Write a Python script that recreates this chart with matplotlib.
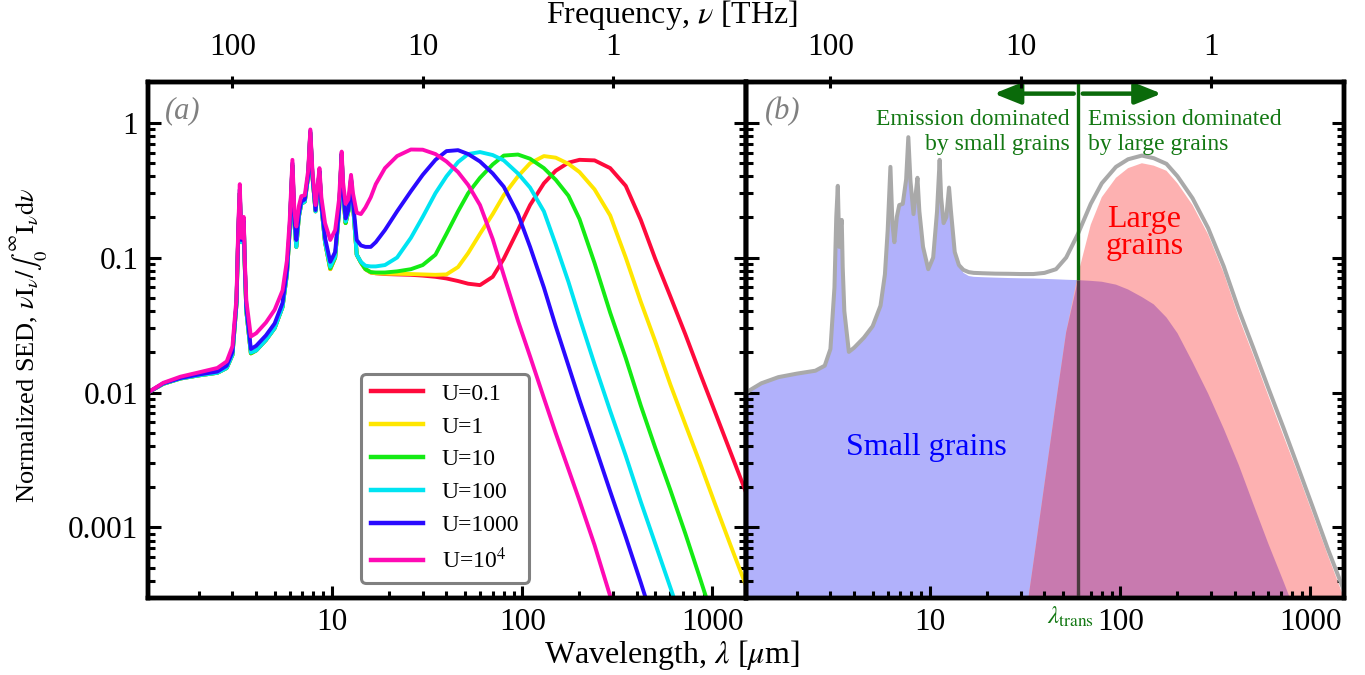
import numpy as np
import matplotlib
matplotlib.use('Agg')
import matplotlib.pyplot as plt
from matplotlib.ticker import NullFormatter, NullLocator

plt.rcParams['font.family'] = ['Liberation Serif', 'DejaVu Serif']
plt.rcParams['mathtext.fontset'] = 'stix'

# wavelength grid [micron]
wl = [1.08, 1.3, 1.6, 2.0, 2.5, 2.8, 3.0, 3.15, 3.22, 3.28,
      3.34, 3.40, 3.44, 3.48, 3.55, 3.75, 4.0, 4.5, 5.0, 5.5,
      5.8, 6.0, 6.2, 6.35, 6.5, 6.7, 6.9, 7.2, 7.5, 7.7,
      7.9, 8.2, 8.45, 8.6, 8.8, 9.2, 9.8, 10.4, 10.9, 11.25,
      11.45, 11.8, 12.2, 12.6, 12.9, 13.5, 14.2, 15, 16, 17,
      19, 22, 26, 30, 35, 40, 46, 52, 60, 70,
      80, 95, 110, 130, 150, 175, 200, 240, 290, 350,
      420, 500, 600, 720, 860, 1030, 1230, 1500]

# panel (a): normalized SEDs for different radiation fields U
sed_U01 = [0.0100, 0.0116, 0.0127, 0.0134, 0.0140, 0.0152, 0.019, 0.045, 0.15, 0.30,
           0.13, 0.17, 0.19, 0.09, 0.04, 0.0195, 0.0205, 0.0245, 0.030, 0.043,
           0.075, 0.16, 0.48, 0.18, 0.12, 0.20, 0.25, 0.26, 0.40, 0.84,
           0.40, 0.22, 0.33, 0.43, 0.24, 0.13, 0.082, 0.10, 0.22, 0.58,
           0.30, 0.18, 0.22, 0.38, 0.25, 0.105, 0.092, 0.082, 0.0775, 0.0765,
           0.0755, 0.075, 0.0745, 0.0735, 0.072, 0.070, 0.067, 0.064, 0.0625, 0.072,
           0.098, 0.16, 0.245, 0.355, 0.44, 0.505, 0.53, 0.525, 0.46, 0.34,
           0.19, 0.098, 0.0517, 0.027, 0.0139, 0.0072, 0.00376, 0.00182]
sed_U1 = [0.0100, 0.0116, 0.0127, 0.0134, 0.0140, 0.0152, 0.019, 0.045, 0.15, 0.30,
          0.13, 0.17, 0.19, 0.09, 0.04, 0.0195, 0.0205, 0.0245, 0.030, 0.043,
          0.075, 0.16, 0.48, 0.18, 0.12, 0.20, 0.25, 0.26, 0.40, 0.84,
          0.40, 0.22, 0.33, 0.43, 0.24, 0.13, 0.082, 0.10, 0.22, 0.58,
          0.30, 0.18, 0.22, 0.38, 0.25, 0.105, 0.092, 0.082, 0.0775, 0.0765,
          0.076, 0.0758, 0.0755, 0.075, 0.0745, 0.075, 0.085, 0.108, 0.15, 0.21,
          0.29, 0.40, 0.50, 0.565, 0.55, 0.495, 0.43, 0.32, 0.205, 0.10,
          0.047, 0.024, 0.0115, 0.0058, 0.003, 0.0015, 0.00077, 0.00037]
sed_U10 = [0.0100, 0.0116, 0.0127, 0.0134, 0.0140, 0.0152, 0.019, 0.045, 0.15, 0.30,
           0.13, 0.17, 0.19, 0.09, 0.04, 0.0195, 0.0205, 0.0245, 0.030, 0.043,
           0.075, 0.16, 0.48, 0.18, 0.12, 0.20, 0.25, 0.26, 0.40, 0.84,
           0.40, 0.22, 0.33, 0.43, 0.24, 0.13, 0.083, 0.10, 0.22, 0.58,
           0.30, 0.18, 0.22, 0.38, 0.25, 0.105, 0.092, 0.082, 0.078, 0.0775,
           0.0775, 0.079, 0.082, 0.088, 0.105, 0.15, 0.22, 0.30, 0.39, 0.49,
           0.57, 0.58, 0.54, 0.46, 0.377, 0.287, 0.193, 0.091, 0.039, 0.018,
           0.008, 0.0039, 0.0019, 0.0009, 0.00042, 0.00019, 9e-5, 4e-5]
sed_U100 = [0.0100, 0.0116, 0.0127, 0.0134, 0.0140, 0.0152, 0.019, 0.045, 0.15, 0.30,
            0.13, 0.17, 0.19, 0.09, 0.04, 0.0198, 0.0205, 0.0245, 0.030, 0.043,
            0.075, 0.16, 0.48, 0.18, 0.12, 0.20, 0.25, 0.26, 0.40, 0.84,
            0.40, 0.22, 0.33, 0.43, 0.24, 0.13, 0.0855, 0.102, 0.22, 0.58,
            0.30, 0.185, 0.22, 0.38, 0.25, 0.105, 0.093, 0.087, 0.086, 0.086,
            0.088, 0.10, 0.14, 0.20, 0.30, 0.40, 0.51, 0.585, 0.605, 0.575,
            0.525, 0.42, 0.33, 0.22, 0.125, 0.066, 0.036, 0.0162, 0.0073, 0.0034,
            0.00155, 0.00076, 0.00036, 0.00017, 7.5e-5, 3.3e-5, 1.5e-5, 6.5e-6]
sed_U1000 = [0.0100, 0.0117, 0.0128, 0.0136, 0.0143, 0.0158, 0.020, 0.047, 0.16, 0.32,
             0.135, 0.175, 0.195, 0.095, 0.043, 0.021, 0.0222, 0.0265, 0.0325, 0.046,
             0.08, 0.17, 0.50, 0.19, 0.135, 0.21, 0.26, 0.27, 0.41, 0.87,
             0.41, 0.225, 0.34, 0.44, 0.25, 0.14, 0.093, 0.11, 0.23, 0.59,
             0.31, 0.195, 0.225, 0.39, 0.26, 0.135, 0.123, 0.12, 0.12, 0.13,
             0.16, 0.22, 0.31, 0.41, 0.53, 0.615, 0.625, 0.585, 0.515, 0.42,
             0.335, 0.21, 0.12, 0.06, 0.031, 0.0158, 0.0088, 0.0041, 0.00185, 0.00085,
             0.00039, 0.00018, 8.5e-5, 4e-5, 1.9e-5, 9e-6, 4.2e-6, 1.9e-6]
sed_U1e4 = [0.0100, 0.0118, 0.0131, 0.0141, 0.0152, 0.0170, 0.022, 0.05, 0.17, 0.35,
            0.14, 0.18, 0.20, 0.10, 0.048, 0.026, 0.0275, 0.033, 0.041, 0.057,
            0.095, 0.19, 0.53, 0.22, 0.17, 0.24, 0.285, 0.29, 0.44, 0.89,
            0.44, 0.245, 0.36, 0.46, 0.28, 0.18, 0.135, 0.16, 0.27, 0.61,
            0.36, 0.25, 0.27, 0.41, 0.30, 0.215, 0.21, 0.235, 0.28, 0.35,
            0.46, 0.565, 0.632, 0.63, 0.585, 0.515, 0.43, 0.345, 0.245, 0.137,
            0.074, 0.034, 0.0185, 0.0091, 0.005, 0.0027, 0.00158, 0.00074, 0.00031, 0.00015,
            7e-5, 3.3e-5, 1.5e-5, 7e-6, 3.3e-6, 1.5e-6, 7e-7, 3e-7]

labels = ['U=0.1', 'U=1', 'U=10', 'U=100', 'U=1000', r'U=10$^4$']
colors = ['#ff0a3c', '#ffe600', '#14eb14', '#00e4f2', '#2a0aff', '#ff0ab4']

# panel (b): total SED and the two grain populations
sed_total = [0.0100, 0.0117, 0.0130, 0.0138, 0.0145, 0.0158, 0.021, 0.06, 0.20, 0.34,
             0.12, 0.17, 0.19, 0.085, 0.04, 0.020, 0.0215, 0.0255, 0.031, 0.044,
             0.075, 0.16, 0.47, 0.18, 0.13, 0.20, 0.245, 0.25, 0.38, 0.78,
             0.37, 0.21, 0.31, 0.39, 0.22, 0.12, 0.082, 0.10, 0.22, 0.53,
             0.28, 0.18, 0.20, 0.33, 0.22, 0.11, 0.088, 0.081, 0.078, 0.077,
             0.0765, 0.076, 0.0758, 0.0755, 0.0755, 0.077, 0.082, 0.10, 0.15, 0.25,
             0.355, 0.47, 0.535, 0.57, 0.545, 0.495, 0.40, 0.275, 0.165, 0.086,
             0.041, 0.0215, 0.0108, 0.0055, 0.0028, 0.0014, 0.0007, 0.00034]
sed_small = [0.0100, 0.0117, 0.0130, 0.0138, 0.0145, 0.0158, 0.021, 0.06, 0.20, 0.34,
             0.12, 0.17, 0.19, 0.085, 0.04, 0.020, 0.0215, 0.0255, 0.031, 0.044,
             0.075, 0.16, 0.47, 0.18, 0.13, 0.20, 0.245, 0.25, 0.38, 0.78,
             0.37, 0.21, 0.31, 0.39, 0.22, 0.12, 0.082, 0.10, 0.22, 0.53,
             0.28, 0.18, 0.20, 0.33, 0.22, 0.11, 0.088, 0.077, 0.073, 0.072,
             0.0715, 0.071, 0.0705, 0.0702, 0.070, 0.0695, 0.069, 0.0685, 0.068, 0.0672,
             0.0662, 0.063, 0.058, 0.051, 0.045, 0.036, 0.0275, 0.0168, 0.0098, 0.0054,
             0.0029, 0.0015, 0.00076, 0.0004, 0.00021, 0.0001, 5e-5, 2.2e-5]
# large grains only from 30 micron on (same grid as the tail of wl)
wl_large = [30, 35, 40, 46, 52, 60, 70, 80, 95, 110, 130, 150, 175, 200,
            240, 290, 350, 420, 500, 600, 720, 860, 1030, 1230, 1500]
sed_large = [1.2e-4, 5.5e-4, 0.0021, 0.0085, 0.028, 0.075, 0.175, 0.28, 0.39, 0.46,
             0.50, 0.48, 0.44, 0.355, 0.245, 0.148, 0.077, 0.036, 0.019, 0.0095,
             0.0048, 0.0025, 0.00125, 0.00063, 0.0003]
lambda_trans = 60.

c_thz = 299.792458  # micron * THz
green = '#137813'
dkgreen = '#0a6a0a'

fig = plt.figure(figsize=(13.65, 6.75), dpi=100)
ax1 = fig.add_axes([148/1365, 77/675, 598/1365, 516/675])
ax2 = fig.add_axes([746/1365, 77/675, 598/1365, 516/675])


def style(ax, ylab=True):
    top = ax.twiny()
    for a in (ax, top):
        a.set_xscale('log')
        a.set_xlim(1.08, 1500)
    ax.set_yscale('log')
    ax.set_ylim(3e-4, 2)
    ax.set_xticks([10, 100, 1000])
    ax.set_xticklabels(['10', '100', '1000'])
    ax.set_yticks([1e-3, 1e-2, 0.1, 1])
    ax.set_yticklabels(['0.001', '0.01', '0.1', '1'] if ylab else [])
    ax.xaxis.set_minor_formatter(NullFormatter())
    ax.yaxis.set_minor_formatter(NullFormatter())
    ax.tick_params(which='both', direction='in', bottom=True, top=False,
                   left=True, right=True, width=2.2, labelsize=22.5, pad=7)
    ax.tick_params(which='major', length=9)
    ax.tick_params(which='minor', length=4.8)
    top.set_xticks([c_thz/100, c_thz/10, c_thz])
    top.set_xticklabels(['100', '10', '1'])
    top.xaxis.set_minor_locator(NullLocator())
    top.tick_params(axis='x', direction='inout', length=9, width=2.2,
                    labelsize=22.5, pad=10)
    for a in (ax, top):
        for s in a.spines.values():
            s.set_linewidth(3.2)
    return top


style(ax1)
style(ax2, ylab=False)

# panel (a)
sets = [sed_U01, sed_U1, sed_U10, sed_U100, sed_U1000, sed_U1e4]
for i in range(len(sets)):
    ax1.plot(wl, sets[i], color=colors[i], lw=2.8, label=labels[i])

leg = ax1.legend(loc='lower left', bbox_to_anchor=(0.337, 0.007), fontsize=17,
                 fancybox=True, framealpha=1, edgecolor='#808080',
                 handlelength=2.2, handletextpad=0.8, labelspacing=0.48,
                 borderpad=0.4)
leg.get_frame().set_linewidth(2.2)
for l in leg.get_lines():
    l.set_linewidth(3.2)

ax1.text(0.028, 0.972, '(a)', transform=ax1.transAxes, style='italic',
         color='#808080', fontsize=22, va='top')

# panel (b)
wl_a = np.array(wl)
small = np.array(sed_small)
large = np.array(sed_large)
n0 = len(wl) - len(wl_large)
ax2.fill_between(wl_a, 1e-8, small, color='#b1b1fb', lw=0, zorder=1)
ax2.fill_between(wl_large, 1e-8, large, color='#fdb1b1', lw=0, zorder=1)
ax2.fill_between(wl_large, 1e-8, np.minimum(small[n0:], large),
                 color='#c87aaf', lw=0, zorder=1.5)
ax2.plot(wl, sed_total, color='#a9a9a9', lw=2.9, zorder=3)

i_t = wl_large.index(lambda_trans)
y_split = min(small[n0 + i_t], large[i_t])
ylo, yhi = ax2.get_ylim()
ax2.vlines(lambda_trans, ylo, y_split, color='#4a3a3e', lw=2.4, zorder=4)
ax2.vlines(lambda_trans, y_split, yhi, color=dkgreen, lw=2.4, zorder=4)

arrow_style = dict(arrowstyle='-|>,head_length=0.8,head_width=0.32',
                   color=dkgreen, lw=3.2, shrinkA=0, shrinkB=0, mutation_scale=20)
ax2.annotate('', xy=(21.7, 1.64), xytext=(57, 1.64), arrowprops=arrow_style)
ax2.annotate('', xy=(165, 1.64), xytext=(63.5, 1.64), arrowprops=arrow_style)
ax2.text(54, 1.27, 'Emission dominated\nby small grains', ha='right', va='top',
         color=green, fontsize=17, linespacing=1.25)
ax2.text(67.5, 1.27, 'Emission dominated\nby large grains', ha='left', va='top',
         color=green, fontsize=17, linespacing=1.25)
ax2.text(134, 0.152, 'Large\ngrains', ha='center', va='center', color='red',
         fontsize=23, linespacing=0.95)
ax2.text(9.6, 0.0039, 'Small grains', ha='center', va='center', color='blue',
         fontsize=23)
ax2.text(55, -0.037, r'$\lambda_{\rm trans}$', transform=ax2.get_xaxis_transform(),
         ha='center', va='center', color=green, fontsize=18)
ax2.text(0.031, 0.972, '(b)', transform=ax2.transAxes, style='italic',
         color='#808080', fontsize=22, va='top')

fig.text(0.492, 1 - 655/675, r'Wavelength, $\lambda$ [$\mu$m]', ha='center',
         va='center', fontsize=23)
fig.text(0.492, 1 - 15/675, r'Frequency, $\nu$ [THz]', ha='center',
         va='center', fontsize=23)
fig.text(0.021, 1 - 345/675,
         r'Normalized SED, $\nu\mathrm{I}_\nu/\int_0^\infty\mathrm{I}_\nu\mathrm{d}\nu$',
         rotation=90, ha='center', va='center', fontsize=19)

plt.savefig('out.png', dpi=100)
